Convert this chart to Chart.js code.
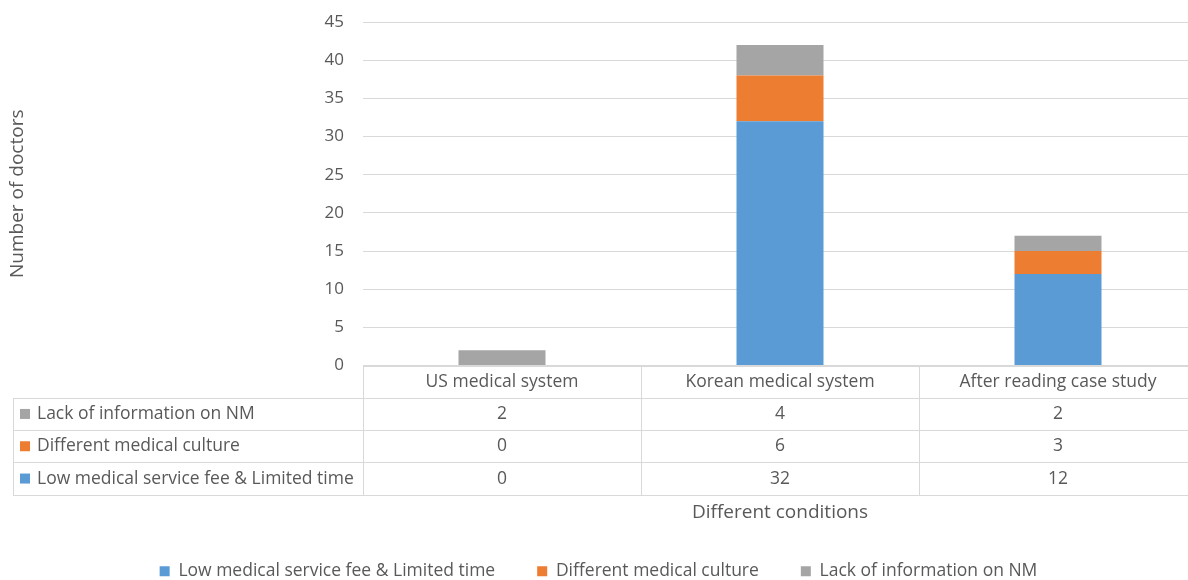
<!DOCTYPE html>
<html>
<head>
<meta charset="utf-8">
<script src="https://cdn.jsdelivr.net/npm/chart.js@4"></script>
<style>
  html, body { margin: 0; padding: 0; background: #fff; overflow: hidden; }
  #wrap { width: 1200px; height: 580px; overflow: hidden; }
</style>
</head>
<body>
<div id="wrap"><canvas id="chart" width="1200" height="590"></canvas></div>
<script>
const categories = ['US medical system', 'Korean medical system', 'After reading case study'];
const lowFee = [0, 32, 12];        // Low medical service fee & Limited time
const diffCulture = [0, 6, 3];     // Different medical culture
const lackInfo = [2, 4, 2];        // Lack of information on NM
const seriesNames = ['Low medical service fee & Limited time', 'Different medical culture', 'Lack of information on NM'];
const seriesColors = ['#5b9bd5', '#ed7d31', '#a5a5a5'];
const yMax = 45;
const yStep = 5;

const FONT = 'Open Sans';
const TEXT = '#595959';
const LINE = '#d9d9d9';

// data table under the plot (like Excel's "data table" option)
const dataTable = {
  id: 'dataTable',
  afterDraw(chart) {
    const ctx = chart.ctx;
    const x = chart.scales.x;
    const area = chart.chartArea;
    const colW = (x.right - x.left) / categories.length;
    const top = area.bottom;
    const rowH = 32.3;
    const tableLeft = 13;
    const rows = [
      { name: seriesNames[2], color: seriesColors[2], vals: lackInfo },
      { name: seriesNames[1], color: seriesColors[1], vals: diffCulture },
      { name: seriesNames[0], color: seriesColors[0], vals: lowFee }
    ];
    const bottom = top + rowH * (rows.length + 1);

    ctx.save();
    ctx.strokeStyle = LINE;
    ctx.lineWidth = 1;
    ctx.beginPath();
    ctx.moveTo(x.left, Math.round(top) + 0.5);
    ctx.lineTo(x.right, Math.round(top) + 0.5);
    for (let r = 1; r <= rows.length + 1; r++) {
      const yy = Math.round(top + rowH * r) + 0.5;
      ctx.moveTo(tableLeft, yy);
      ctx.lineTo(x.right, yy);
    }
    ctx.moveTo(tableLeft + 0.5, Math.round(top + rowH) + 0.5);
    ctx.lineTo(tableLeft + 0.5, Math.round(bottom) + 0.5);
    for (let c = 0; c <= categories.length; c++) {
      const xx = Math.round(x.left + colW * c) + 0.5;
      ctx.moveTo(xx, Math.round(top) + 0.5);
      ctx.lineTo(xx, Math.round(bottom) + 0.5);
    }
    ctx.stroke();

    ctx.fillStyle = TEXT;
    ctx.font = '17.5px "' + FONT + '"';
    ctx.textBaseline = 'middle';
    ctx.textAlign = 'center';
    categories.forEach((c, i) => {
      ctx.fillText(c, x.getPixelForValue(i), top + rowH / 2);
    });
    rows.forEach((row, r) => {
      const cy = top + rowH * (r + 1) + rowH / 2;
      ctx.fillStyle = row.color;
      ctx.fillRect(20, cy - 5, 10, 10);
      ctx.fillStyle = TEXT;
      ctx.textAlign = 'left';
      ctx.fillText(row.name, 37, cy);
      ctx.textAlign = 'center';
      row.vals.forEach((v, i) => {
        ctx.fillText(String(v), x.getPixelForValue(i), cy);
      });
    });
    ctx.restore();
  }
};

new Chart(document.getElementById('chart'), {
  type: 'bar',
  data: {
    labels: categories,
    datasets: [
      { label: seriesNames[0], data: lowFee, backgroundColor: seriesColors[0] },
      { label: seriesNames[1], data: diffCulture, backgroundColor: seriesColors[1] },
      { label: seriesNames[2], data: lackInfo, backgroundColor: seriesColors[2] }
    ]
  },
  options: {
    responsive: false,
    animation: false,
    datasets: { bar: { categoryPercentage: 1, barPercentage: 0.313 } },
    layout: { padding: { top: 22, right: 3, left: 0, bottom: 0 } },
    plugins: {
      legend: {
        position: 'bottom',
        labels: {
          boxWidth: 10,
          boxHeight: 10,
          padding: 42,
          color: TEXT,
          font: { family: FONT, size: 17.5 }
        }
      },
      tooltip: { enabled: false }
    },
    scales: {
      x: {
        stacked: true,
        ticks: { display: false },
        grid: { display: false },
        border: { display: false },
        title: {
          display: true,
          text: 'Different conditions',
          color: TEXT,
          font: { family: FONT, size: 19, lineHeight: 0.8 },
          padding: { top: 0, bottom: 0 }
        },
        afterFit: (scale) => { scale.height = 155; }
      },
      y: {
        stacked: true,
        min: 0,
        max: yMax,
        ticks: {
          stepSize: yStep,
          padding: 19,
          color: TEXT,
          font: { family: FONT, size: 17 }
        },
        grid: { color: LINE, drawTicks: false },
        border: { display: false },
        title: {
          display: true,
          text: 'Number of doctors',
          color: TEXT,
          font: { family: FONT, size: 19 },
          padding: { top: 6, bottom: 0 }
        },
        afterFit: (scale) => {
          scale.width = 363;
          scale.paddingTop = 0;
          scale.paddingBottom = 0;
        }
      }
    }
  },
  plugins: [dataTable]
});
</script>
</body>
</html>
